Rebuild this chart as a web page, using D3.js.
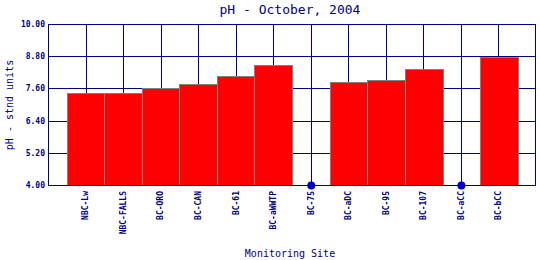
<!DOCTYPE html>
<html><head><meta charset="utf-8">
<script src="https://cdn.jsdelivr.net/npm/d3@7"></script>
<style>body{margin:0;background:#fff}svg{display:block}</style>
</head><body>
<script>
const categories = ["NBC-Lw","NBC-FALLS","BC-ORO","BC-CAN","BC-61","BC-aWWTP","BC-75","BC-aDC","BC-95","BC-107","BC-aCC","BC-bCC"];
const values = [7.42, 7.42, 7.60, 7.75, 8.05, 8.46, null, 7.84, 7.90, 8.31, null, 8.76];
const yTicks = [4.00, 5.20, 6.40, 7.60, 8.80, 10.00];
const title = "pH - October, 2004";
const xTitle = "Monitoring Site";
const yTitle = "pH - stnd units";

const W = 540, H = 260;
const m = {left: 48, right: 4, top: 24, bottom: 75};
const navy = "#000080";
const font = "'DejaVu Sans Mono', monospace";

const svg = d3.select("body").append("svg").attr("width", W).attr("height", H);

const x = d3.scaleBand().domain(categories).range([m.left, W - m.right]).paddingInner(0).paddingOuter(0.5);
const y = d3.scaleLinear().domain([4, 10]).range([H - m.bottom, m.top]);

// grid
const g = svg.append("g");
g.selectAll(".hg").data(yTicks).join("line")
  .attr("x1", m.left).attr("x2", W - m.right)
  .attr("y1", d => Math.round(y(d)) + 0.5).attr("y2", d => Math.round(y(d)) + 0.5)
  .attr("stroke", navy).attr("stroke-width", 1);
g.selectAll(".vg").data(categories).join("line")
  .attr("x1", d => Math.round(x(d) + x.bandwidth() / 2) + 0.5)
  .attr("x2", d => Math.round(x(d) + x.bandwidth() / 2) + 0.5)
  .attr("y1", m.top).attr("y2", H - m.bottom)
  .attr("stroke", navy).attr("stroke-width", 1);

// bars
const data = categories.map((c, i) => ({c, v: values[i]}));
svg.selectAll(".bar").data(data.filter(d => d.v !== null)).join("rect")
  .attr("x", d => Math.round(x(d.c)) + 0.5)
  .attr("width", Math.round(x.bandwidth()))
  .attr("y", d => Math.round(y(d.v)) + 0.5)
  .attr("height", d => Math.round(y(4)) - Math.round(y(d.v)))
  .attr("fill", "#ff0000").attr("stroke", "#808080").attr("stroke-width", 1);

// frame
svg.append("rect").attr("x", m.left + 0.5).attr("y", m.top + 0.5)
  .attr("width", W - m.right - m.left - 1).attr("height", H - m.bottom - m.top)
  .attr("fill", "none").attr("stroke", navy).attr("stroke-width", 1);

// missing markers
svg.selectAll(".miss").data(data.filter(d => d.v === null)).join("circle")
  .attr("cx", d => x(d.c) + x.bandwidth() / 2 + 0.5)
  .attr("cy", y(4) + 0.5).attr("r", 4).attr("fill", "#0000cc");

// y axis labels
const yAxis = d3.axisLeft(y).tickValues(yTicks).tickFormat(d3.format(".2f")).tickSize(0).tickPadding(3);
const ya = svg.append("g").attr("transform", `translate(${m.left},0)`).call(yAxis);
ya.select(".domain").remove();
ya.selectAll("text").attr("font-family", font).attr("font-size", 8).attr("font-weight", "bold").attr("fill", navy);

// x axis labels
const xAxis = d3.axisBottom(x).tickSize(0).tickPadding(0);
const xa = svg.append("g").attr("transform", `translate(0,${H - m.bottom})`).call(xAxis);
xa.select(".domain").remove();
xa.selectAll("text")
  .attr("font-family", font).attr("font-size", 8).attr("font-weight", "bold").attr("fill", navy)
  .attr("transform", "rotate(-90)").attr("text-anchor", "end")
  .attr("x", -6).attr("y", 0).attr("dy", "0.35em");

// titles
svg.append("text").attr("x", 290).attr("y", 14).attr("text-anchor", "middle")
  .attr("font-family", font).attr("font-size", 13).attr("fill", navy).text(title);
svg.append("text").attr("x", 290).attr("y", 257).attr("text-anchor", "middle")
  .attr("font-family", font).attr("font-size", 10).attr("fill", navy).text(xTitle);
svg.append("text").attr("transform", "translate(13,105) rotate(-90)").attr("text-anchor", "middle")
  .attr("font-family", font).attr("font-size", 10).attr("fill", navy).text(yTitle);
</script>
</body></html>
